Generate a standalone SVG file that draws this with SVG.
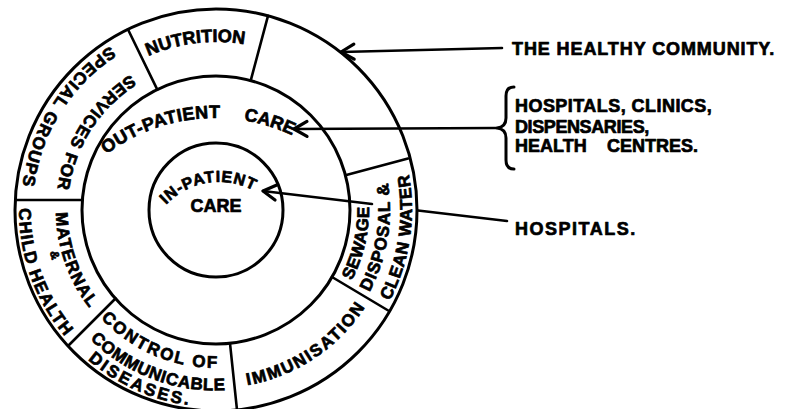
<svg xmlns="http://www.w3.org/2000/svg" width="791" height="409" viewBox="0 0 791 409">
  <defs>
    <style>
      .ring{fill:none;stroke:#000;stroke-width:3}
      .div{stroke:#000;stroke-width:2.6;stroke-linecap:round}
      .lbl{font-family:"Liberation Sans",Arial,Helvetica,sans-serif;font-weight:700;fill:#000;stroke:#000;stroke-width:0.7;stroke-linejoin:round}
      .f16{font-size:16px}
      .f17{font-size:17px}
      .f18{font-size:18px}
      .conn{fill:none;stroke:#000;stroke-width:2.6;stroke-linecap:round}
      .brace{fill:none;stroke:#000;stroke-width:3;stroke-linecap:round;stroke-linejoin:round}
    </style>
    <marker id="ah" markerUnits="userSpaceOnUse" viewBox="-3 -10 20 20" markerWidth="20" markerHeight="20" refX="0" refY="0" orient="auto" overflow="visible">
      <path d="M13,-7.5 L0,0 L13,7.5" fill="none" stroke="#000" stroke-width="3.2" stroke-linecap="round" stroke-linejoin="round"/>
    </marker>
    <!-- baseline arcs for the curved labels (centre 216,210 unless noted) -->
    <path id="p-nutrition" d="M93.1,95.4 A168,168 0 0 1 307.5,69.1"/>
    <path id="p-services" d="M167.9,57.4 A160,160 0 0 0 57.4,230.9"/>
    <path id="p-special" d="M155.7,24.5 A195,195 0 0 0 22.9,237.1"/>
    <path id="p-maternal" d="M66.1,154.0 A160,160 0 0 0 134.8,347.9"/>
    <path id="p-amp" d="M45.0,196.8 A171.5,171.5 0 0 0 76.6,309.8"/>
    <path id="p-child" d="M31.0,142.3 A197,197 0 0 0 117.2,380.4"/>
    <path id="p-control" d="M75.5,282.2 A158,158 0 0 0 262.7,360.9"/>
    <path id="p-communicable" d="M58.8,298.5 A180.5,180.5 0 0 0 276.0,380.3"/>
    <path id="p-diseases" d="M38.9,296.4 A197,197 0 0 0 270.3,399.4"/>
    <path id="p-immunisation" d="M196.8,387.0 A178,178 0 0 0 386.9,259.7"/>
    <path id="p-sewage" d="M307.9,332.4 A153,153 0 0 0 352.4,140.8"/>
    <path id="p-disposal" d="M329.0,342.3 A174,174 0 0 0 365.9,121.7"/>
    <path id="p-clean" d="M345.9,356.8 A196,196 0 0 0 383.1,107.6"/>
    <!-- centre 215,298 -->
    <path id="p-outpatient" d="M62.8,201.8 A180,180 0 0 1 283.3,131.5"/>
    <path id="p-outcare" d="M175.4,122.4 A180,180 0 0 1 347.3,175.9"/>
    <!-- centre 219,255 -->
    <path id="p-inpatient" d="M156.4,217.4 A73,73 0 0 1 266.9,199.9"/>
  </defs>

  <rect width="791" height="409" fill="#fff"/>

  <!-- outer ring: the healthy community -->
  <g id="community">
    <circle class="ring" cx="216" cy="210" r="201"/>
    <line class="div" x1="157.3" y1="89.6" x2="127.9" y2="29.3"/>
    <line class="div" x1="250.7" y1="80.6" x2="268.0" y2="15.8"/>
    <line class="div" x1="345.4" y1="175.3" x2="408.0" y2="158.5"/>
    <line class="div" x1="332.0" y1="277.0" x2="389.0" y2="311.0"/>
    <line class="div" x1="230.0" y1="343.3" x2="237.0" y2="409.9"/>
    <line class="div" x1="115.5" y1="298.5" x2="68.5" y2="345.5"/>
    <line class="div" x1="82.4" y1="200" x2="15.3" y2="200"/>
  </g>

  <g id="nutrition">
    <text class="lbl f18"><textPath href="#p-nutrition" startOffset="50%" text-anchor="middle">NUTRITION</textPath></text>
  </g>

  <g id="special-groups">
    <text class="lbl f17" letter-spacing="1.2"><textPath href="#p-services" startOffset="50%" text-anchor="middle">SERVICES FOR</textPath></text>
    <text class="lbl f17" letter-spacing="1.4"><textPath href="#p-special" startOffset="50%" text-anchor="middle">SPECIAL GROUPS</textPath></text>
  </g>

  <g id="maternal-child-health">
    <text class="lbl f17" letter-spacing="1.2"><textPath href="#p-maternal" startOffset="50%" text-anchor="middle">MATERNAL</textPath></text>
    <text class="lbl" font-size="12"><textPath href="#p-amp" startOffset="50%" text-anchor="middle">&amp;</textPath></text>
    <text class="lbl f17" letter-spacing="1.3"><textPath href="#p-child" startOffset="50%" text-anchor="middle">CHILD HEALTH</textPath></text>
  </g>

  <g id="communicable-diseases">
    <text class="lbl f17" letter-spacing="2"><textPath href="#p-control" startOffset="50%" text-anchor="middle">CONTROL OF</textPath></text>
    <text class="lbl f17" letter-spacing="0.6"><textPath href="#p-communicable" startOffset="50%" text-anchor="middle">COMMUNICABLE</textPath></text>
    <text class="lbl f17" letter-spacing="2.6"><textPath href="#p-diseases" startOffset="50%" text-anchor="middle">DISEASES.</textPath></text>
  </g>

  <g id="immunisation">
    <text class="lbl f17" letter-spacing="1.8"><textPath href="#p-immunisation" startOffset="50%" text-anchor="middle">IMMUNISATION</textPath></text>
  </g>

  <g id="sewage-water">
    <text class="lbl f17" letter-spacing="0.4"><textPath href="#p-sewage" startOffset="50%" text-anchor="middle">SEWAGE</textPath></text>
    <text class="lbl f17" letter-spacing="1"><textPath href="#p-disposal" startOffset="50%" text-anchor="middle">DISPOSAL &amp;</textPath></text>
    <text class="lbl f17" letter-spacing="0.7"><textPath href="#p-clean" startOffset="50%" text-anchor="middle">CLEAN WATER</textPath></text>
  </g>

  <!-- middle ring: out-patient care -->
  <g id="out-patient">
    <circle class="ring" cx="216" cy="210" r="134"/>
    <text class="lbl f18" letter-spacing="0.4"><textPath href="#p-outpatient" startOffset="50%" text-anchor="middle">OUT-PATIENT</textPath></text>
    <text class="lbl f18"><textPath href="#p-outcare" startOffset="50%" text-anchor="middle">CARE</textPath></text>
  </g>

  <!-- centre: in-patient care -->
  <g id="in-patient">
    <circle class="ring" cx="216" cy="210" r="67"/>
    <text class="lbl f16" letter-spacing="0.8"><textPath href="#p-inpatient" startOffset="50%" text-anchor="middle">IN-PATIENT</textPath></text>
    <text class="lbl f18" x="216" y="212" text-anchor="middle">CARE</text>
  </g>

  <!-- side labels -->
  <g id="label-community">
    <text class="lbl f18" x="512" y="55" letter-spacing="0.9">THE HEALTHY COMMUNITY.</text>
  </g>
  <g id="label-facilities">
    <path class="brace" d="M514,87 Q506,87 506,96 L506,118 Q506,127 497,128 Q506,129 506,138 L506,160 Q506,169 514,169"/>
    <text class="lbl f18" x="515" y="112" letter-spacing="0.45">HOSPITALS, CLINICS,</text>
    <text class="lbl f18" x="515" y="133" letter-spacing="-0.4">DISPENSARIES,</text>
    <text class="lbl f18" x="515" y="152">HEALTH<tspan x="607">CENTRES.</tspan></text>
  </g>
  <g id="label-hospitals">
    <text class="lbl f18" x="515" y="235" letter-spacing="1.5">HOSPITALS.</text>
  </g>

  <!-- connectors -->
  <g id="connectors">
    <path class="conn" marker-start="url(#ah)" d="M341,52 L502,48"/>
    <path class="conn" marker-start="url(#ah)" d="M294,129 L496,128"/>
    <path class="conn" marker-start="url(#ah)" d="M263,191 L372,204"/>
    <path class="conn" d="M418,210.5 L507,221"/>
  </g>
</svg>
